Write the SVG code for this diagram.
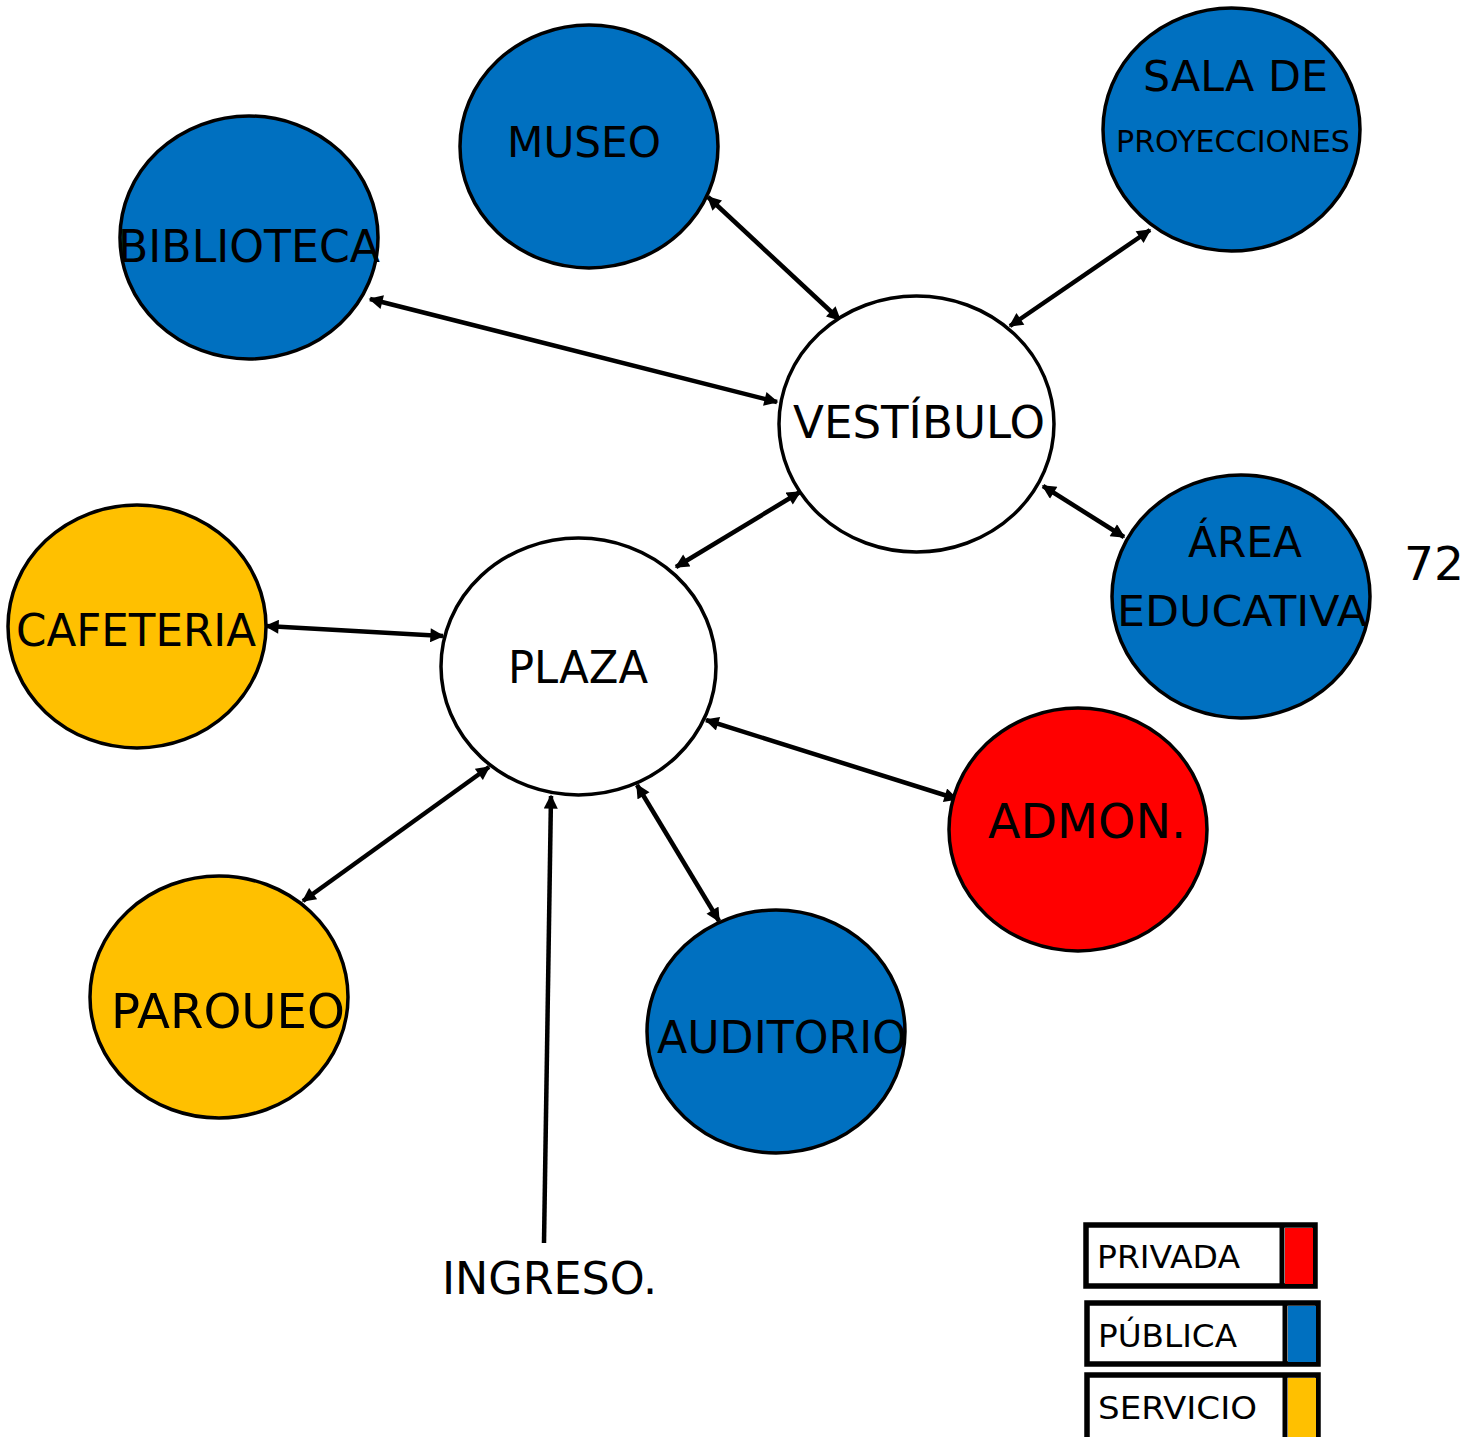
<svg xmlns="http://www.w3.org/2000/svg" width="1479" height="1437" viewBox="0 0 1479 1437">
<style>
.n{stroke:#000;stroke-width:3.5}
.pub{fill:#0070C0}
.srv{fill:#FFC000}
.prv{fill:#FF0000}
.wht{fill:#fff}
text{font-family:"DejaVu Sans",Verdana,sans-serif;fill:#000}
.c line{stroke:#000;stroke-width:4.5}
.lg{fill:#fff;stroke:#000;stroke-width:5.5}
</style>
<defs>
<marker id="ah" viewBox="0 0 10 10" refX="9" refY="5" markerWidth="15" markerHeight="14" markerUnits="userSpaceOnUse" orient="auto-start-reverse">
<path d="M0,0 L10,5 L0,10 z" fill="#000"/>
</marker>
<clipPath id="pqclip"><rect x="80" y="960" width="290" height="70"/></clipPath>
</defs>
<rect width="1479" height="1437" fill="#fff"/>
<g class="c">
<line x1="708" y1="197" x2="840" y2="320" marker-start="url(#ah)" marker-end="url(#ah)"/>
<line x1="1150" y1="230" x2="1010" y2="326" marker-start="url(#ah)" marker-end="url(#ah)"/>
<line x1="370" y1="299" x2="777" y2="402" marker-start="url(#ah)" marker-end="url(#ah)"/>
<line x1="1043" y1="486" x2="1124" y2="537" marker-start="url(#ah)" marker-end="url(#ah)"/>
<line x1="800" y1="492" x2="676" y2="567" marker-start="url(#ah)" marker-end="url(#ah)"/>
<line x1="266" y1="626" x2="443" y2="636" marker-start="url(#ah)" marker-end="url(#ah)"/>
<line x1="706" y1="720" x2="957" y2="799" marker-start="url(#ah)" marker-end="url(#ah)"/>
<line x1="489" y1="767" x2="303" y2="901" marker-start="url(#ah)" marker-end="url(#ah)"/>
<line x1="637" y1="785" x2="719" y2="921" marker-start="url(#ah)" marker-end="url(#ah)"/>
<line x1="544" y1="1243" x2="551" y2="796" marker-end="url(#ah)"/>
</g>
<g id="museo"><ellipse class="n pub" cx="589" cy="146.5" rx="129" ry="121.5"/><text x="507" y="157" font-size="43" textLength="154" lengthAdjust="spacingAndGlyphs">MUSEO</text></g>
<g id="sala"><ellipse class="n pub" cx="1231.5" cy="129.5" rx="128.5" ry="121.5"/><text x="1143" y="91" font-size="43" textLength="185" lengthAdjust="spacingAndGlyphs">SALA DE</text><text x="1116" y="152" font-size="30" textLength="234" lengthAdjust="spacingAndGlyphs">PROYECCIONES</text></g>
<g id="biblioteca"><ellipse class="n pub" cx="249" cy="237.5" rx="129" ry="121.5"/><text x="118" y="262" font-size="44" textLength="262" lengthAdjust="spacingAndGlyphs">BIBLIOTECA</text></g>
<g id="vestibulo"><ellipse class="n wht" cx="916.5" cy="424" rx="137.5" ry="128"/><text x="793" y="438" font-size="44" textLength="252" lengthAdjust="spacingAndGlyphs">VESTÍBULO</text></g>
<g id="area"><ellipse class="n pub" cx="1241" cy="596.5" rx="129" ry="121.5"/><text x="1188" y="557" font-size="43" textLength="114" lengthAdjust="spacingAndGlyphs">ÁREA</text><text x="1117" y="626" font-size="43" textLength="250" lengthAdjust="spacingAndGlyphs">EDUCATIVA</text></g>
<g id="cafeteria"><ellipse class="n srv" cx="137" cy="626.5" rx="129" ry="121.5"/><text x="16" y="646" font-size="44" textLength="240" lengthAdjust="spacingAndGlyphs">CAFETERIA</text></g>
<g id="plaza"><ellipse class="n wht" cx="578.5" cy="666.5" rx="137.5" ry="128.5"/><text x="508" y="683" font-size="44" textLength="140" lengthAdjust="spacingAndGlyphs">PLAZA</text></g>
<g id="admon"><ellipse class="n prv" cx="1078" cy="829.5" rx="129" ry="121.5"/><text x="988" y="838" font-size="48" textLength="198" lengthAdjust="spacingAndGlyphs">ADMON.</text></g>
<g id="parqueo"><ellipse class="n srv" cx="219" cy="997" rx="129" ry="121"/><text x="111" y="1028" font-size="48" textLength="234" lengthAdjust="spacingAndGlyphs" clip-path="url(#pqclip)">PAROUEO</text></g>
<g id="auditorio"><ellipse class="n pub" cx="776" cy="1031.5" rx="129" ry="121.5"/><text x="657" y="1053" font-size="44" textLength="250" lengthAdjust="spacingAndGlyphs">AUDITORIO</text></g>
<g id="ingreso"><text x="442" y="1294" font-size="44" textLength="215" lengthAdjust="spacingAndGlyphs">INGRESO.</text></g>
<g id="pagenum"><text x="1404" y="580" font-size="47" textLength="60" lengthAdjust="spacingAndGlyphs">72</text></g>
<g id="legend">
<rect class="lg" x="1086" y="1225" width="229" height="61"/>
<rect x="1285" y="1228" width="28" height="56" fill="#FF0000"/>
<line x1="1282" y1="1225" x2="1282" y2="1286" stroke="#000" stroke-width="5"/>
<text x="1097" y="1268" font-size="32" textLength="143" lengthAdjust="spacingAndGlyphs">PRIVADA</text>
<rect class="lg" x="1087" y="1303" width="231" height="61"/>
<rect x="1288" y="1306" width="28" height="56" fill="#0070C0"/>
<line x1="1285" y1="1303" x2="1285" y2="1364" stroke="#000" stroke-width="5"/>
<text x="1098" y="1347" font-size="32" textLength="139" lengthAdjust="spacingAndGlyphs">PÚBLICA</text>
<rect class="lg" x="1087" y="1375" width="231" height="66"/>
<rect x="1288" y="1378" width="28" height="60" fill="#FFC000"/>
<line x1="1285" y1="1375" x2="1285" y2="1437" stroke="#000" stroke-width="5"/>
<text x="1098" y="1419" font-size="32" textLength="159" lengthAdjust="spacingAndGlyphs">SERVICIO</text>
</g>
</svg>
